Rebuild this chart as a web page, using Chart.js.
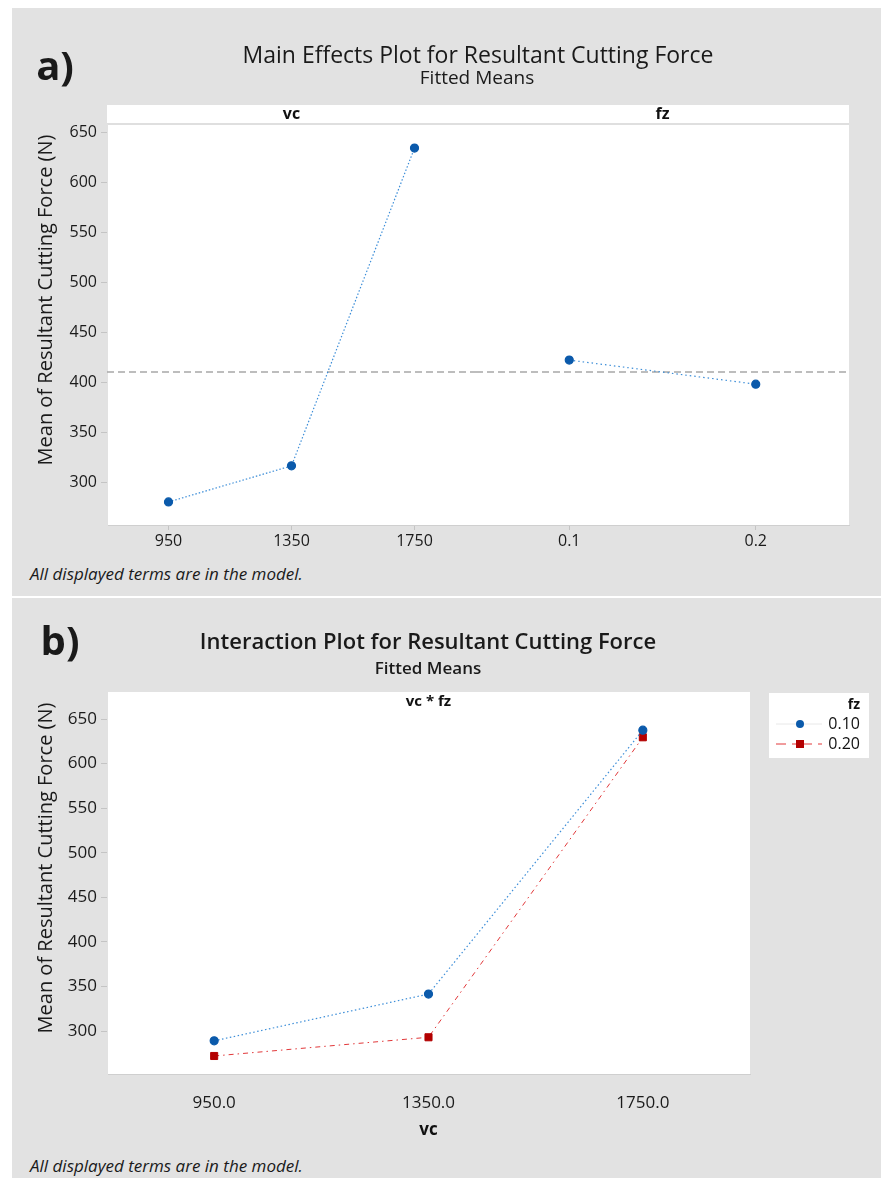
<!DOCTYPE html>
<html>
<head>
<meta charset="utf-8">
<script src="https://cdn.jsdelivr.net/npm/chart.js@4.4.1/dist/chart.umd.min.js"></script>
<style>
  body { margin: 0; width: 881px; height: 1178px; position: relative; background: #fff; overflow: hidden;
         font-family: "Open Sans", sans-serif; color: #1a1a1a; }
  .panel { position: absolute; left: 12px; width: 869px; background: #e2e2e2; }
  .t { position: absolute; transform: translate(-50%, -50%); line-height: 1; white-space: nowrap; }
  .l { position: absolute; transform: translateY(-50%); line-height: 1; white-space: nowrap; }
  .yt { position: absolute; transform: translate(-50%, -50%) rotate(-90deg); line-height: 1; white-space: nowrap;
        font-size: 20px; font-weight: 500; }
  canvas { position: absolute; }
</style>
</head>
<body>
<div class="panel" style="top:8px;height:588px"></div>
<div class="panel" style="top:598px;height:580px"></div>

<canvas id="mainVc" width="476" height="560" style="left:0;top:0"></canvas>
<canvas id="mainFz" width="405" height="560" style="left:476px;top:0"></canvas>
<canvas id="interact" width="881" height="540" style="left:0;top:600px"></canvas>

<div class="t" style="left:55px;top:65px;font-size:40px;font-weight:700">a)</div>
<div class="t" style="left:478px;top:54px;font-size:23px">Main Effects Plot for Resultant Cutting Force</div>
<div class="t" style="left:477px;top:77px;font-size:19px">Fitted Means</div>
<div class="yt" style="left:45px;top:300px">Mean of Resultant Cutting Force (N)</div>
<div class="l" style="left:30px;top:573px;font-size:17px;font-style:italic">All displayed terms are in the model.</div>

<div class="t" style="left:60px;top:640px;font-size:40px;font-weight:700">b)</div>
<div class="t" style="left:428px;top:640px;font-size:22px;font-weight:600">Interaction Plot for Resultant Cutting Force</div>
<div class="t" style="left:428px;top:667px;font-size:17px;font-weight:600">Fitted Means</div>
<div class="yt" style="left:45px;top:868px">Mean of Resultant Cutting Force (N)</div>
<div class="l" style="left:30px;top:1165px;font-size:17px;font-style:italic">All displayed terms are in the model.</div>

<script>
// main effects (fitted means)
const vcLevels = [950, 1350, 1750];
const fzLevels = [0.1, 0.2];
const vcMeans = [281, 317, 634];
const fzMeans = [422.5, 398.5];
const grandMean = 410.5;

// interaction vc * fz
const fzSeriesNames = ["0.10", "0.20"];
const fz010Means = [289, 341.5, 637.5];
const fz020Means = [272, 293, 629.5];

const yTicks = [300, 350, 400, 450, 500, 550, 600, 650];

const BLUE = "#0b5aab", BLUE_LINE = "#3d8ed8", RED = "#b30000", RED_LINE = "#e2383a";
const FONT = "'Open Sans', sans-serif";

// white plot area, optional header strip and caption
const plotFrame = {
  id: "plotFrame",
  beforeDraw(chart, args, opts) {
    const { ctx, chartArea: a } = chart;
    ctx.save();
    ctx.fillStyle = "#fff";
    ctx.fillRect(a.left, a.top, a.right - a.left, a.bottom - a.top);
    if (opts.strip) {
      ctx.fillRect(a.left, a.top - 19, a.right - a.left, 19);
      ctx.strokeStyle = "#d4d4d4";
      ctx.lineWidth = 1.5;
      ctx.beginPath();
      ctx.moveTo(a.left, a.top);
      ctx.lineTo(a.right, a.top);
      ctx.stroke();
      ctx.fillStyle = "#111";
      ctx.font = "bold 16px " + FONT;
      ctx.textAlign = "center";
      ctx.textBaseline = "middle";
      ctx.fillText(opts.strip, (a.left + a.right) / 2, a.top - 10);
    }
    if (opts.caption) {
      ctx.fillStyle = "#111";
      ctx.font = "bold 15px " + FONT;
      ctx.textAlign = "center";
      ctx.textBaseline = "middle";
      ctx.fillText(opts.caption, (a.left + a.right) / 2, a.top + 10);
    }
    ctx.restore();
  }
};

const meanLine = {
  id: "meanLine",
  beforeDatasetsDraw(chart, args, opts) {
    if (opts.value == null) return;
    const { ctx, chartArea: a, scales } = chart;
    const y = scales.y.getPixelForValue(opts.value);
    ctx.save();
    ctx.strokeStyle = "#a8a8a8";
    ctx.lineWidth = 1.5;
    ctx.setLineDash([7, 4]);
    ctx.beginPath();
    ctx.moveTo(a.left, y);
    ctx.lineTo(a.right, y);
    ctx.stroke();
    ctx.restore();
  }
};

// Minitab style legend box to the right of the plot
const sideLegend = {
  id: "sideLegend",
  afterDraw(chart, args, opts) {
    if (!opts.title) return;
    const { ctx, chartArea: a } = chart;
    const x0 = a.right + 19, y0 = a.top + 1, w = 100, h = 65;
    ctx.save();
    ctx.fillStyle = "#fff";
    ctx.fillRect(x0, y0, w, h);
    ctx.fillStyle = "#111";
    ctx.textAlign = "right";
    ctx.textBaseline = "middle";
    ctx.font = "bold 14px " + FONT;
    ctx.fillText(opts.title, x0 + 91, y0 + 12);
    ctx.font = "16px " + FONT;
    chart.data.datasets.forEach((ds, i) => {
      const y = y0 + 31 + i * 20;
      ctx.strokeStyle = i === 0 ? "#e8e8e8" : ds.borderColor;
      ctx.lineWidth = 1;
      ctx.setLineDash(i === 0 ? [] : [10, 6, 4, 6]);
      ctx.beginPath();
      ctx.moveTo(x0 + 7, y);
      ctx.lineTo(x0 + 53, y);
      ctx.stroke();
      ctx.setLineDash([]);
      ctx.fillStyle = ds.pointBackgroundColor;
      if (ds.pointStyle === "rect") {
        ctx.fillRect(x0 + 27, y - 4, 8, 8);
      } else {
        ctx.beginPath();
        ctx.arc(x0 + 31, y, 4, 0, Math.PI * 2);
        ctx.fill();
      }
      ctx.fillStyle = "#111";
      ctx.fillText(ds.label, x0 + 91, y);
    });
    ctx.restore();
  }
};

function pts(xs, ys) {
  return xs.map((x, i) => ({ x: x, y: ys[i] }));
}

function xAxis(min, max, levels, fmt, height, tickLen, pad, size, title) {
  return {
    type: "linear", min: min, max: max,
    afterBuildTicks: s => { s.ticks = levels.map(v => ({ value: v })); },
    afterFit: s => { s.height = height; },
    ticks: { callback: fmt, color: "#1a1a1a", padding: pad, maxRotation: 0, autoSkip: false,
             font: { family: FONT, size: size } },
    grid: { drawOnChartArea: false, drawTicks: tickLen > 0, tickLength: tickLen, color: "#c4c4c4" },
    border: { display: true, color: "#cfcfcf" },
    title: title ? { display: true, text: title, color: "#111", padding: 0,
                     font: { family: FONT, size: 17, weight: "bold" } } : { display: false }
  };
}

function yAxis(min, max, show, size) {
  return {
    type: "linear", min: min, max: max, display: show,
    afterBuildTicks: s => { s.ticks = yTicks.map(v => ({ value: v })); },
    afterFit: s => { s.width = show ? 107 : 0; },
    ticks: { color: "#1a1a1a", padding: 4, font: { family: FONT, size: size } },
    grid: { drawOnChartArea: false, tickLength: 6, color: "#c4c4c4" },
    border: { display: true, color: "#e2e2e2" }
  };
}

const common = {
  responsive: false,
  animation: false,
  plugins: { legend: { display: false }, tooltip: { enabled: false } }
};

new Chart(document.getElementById("mainVc"), {
  type: "line",
  data: { datasets: [{
    data: pts(vcLevels, vcMeans), borderColor: BLUE_LINE, borderWidth: 1.2, borderDash: [1.5, 2],
    pointBackgroundColor: BLUE, pointBorderColor: BLUE, pointRadius: 4
  }] },
  options: Object.assign({}, common, {
    layout: { autoPadding: false, padding: { left: 0, top: 124, right: 0, bottom: 0 } },
    scales: {
      x: xAxis(750, 1950, vcLevels, v => String(v), 35, 5, 2, 16),
      y: yAxis(258, 658, true, 16)
    },
    plugins: Object.assign({}, common.plugins, { plotFrame: { strip: "vc" }, meanLine: { value: grandMean } })
  }),
  plugins: [plotFrame, meanLine]
});

new Chart(document.getElementById("mainFz"), {
  type: "line",
  data: { datasets: [{
    data: pts(fzLevels, fzMeans), borderColor: BLUE_LINE, borderWidth: 1.2, borderDash: [1.5, 3],
    pointBackgroundColor: BLUE, pointBorderColor: BLUE, pointRadius: 4
  }] },
  options: Object.assign({}, common, {
    layout: { autoPadding: false, padding: { left: 0, top: 124, right: 32, bottom: 0 } },
    scales: {
      x: xAxis(0.05, 0.25, fzLevels, v => String(v), 35, 5, 2, 16),
      y: yAxis(258, 658, false, 16)
    },
    plugins: Object.assign({}, common.plugins, { plotFrame: { strip: "fz" }, meanLine: { value: grandMean } })
  }),
  plugins: [plotFrame, meanLine]
});

new Chart(document.getElementById("interact"), {
  type: "line",
  data: { datasets: [
    { label: fzSeriesNames[0], data: pts(vcLevels, fz010Means), borderColor: BLUE_LINE, borderWidth: 1.2,
      borderDash: [1.5, 2.5], pointStyle: "circle", pointRadius: 4,
      pointBackgroundColor: BLUE, pointBorderColor: BLUE },
    { label: fzSeriesNames[1], data: pts(vcLevels, fz020Means), borderColor: RED_LINE, borderWidth: 1,
      borderDash: [5, 4, 1.5, 4], pointStyle: "rect", pointRadius: 5,
      pointBackgroundColor: RED, pointBorderColor: RED }
  ] },
  options: Object.assign({}, common, {
    layout: { autoPadding: false, padding: { left: 0, top: 92, right: 131, bottom: 0 } },
    scales: {
      x: xAxis(750, 1950, vcLevels, v => v.toFixed(1), 66, 0, 19, 17, "vc"),
      y: yAxis(251.8, 680.3, true, 17)
    },
    plugins: Object.assign({}, common.plugins, { plotFrame: { caption: "vc * fz" }, sideLegend: { title: "fz" } })
  }),
  plugins: [plotFrame, sideLegend]
});
</script>
</body>
</html>
